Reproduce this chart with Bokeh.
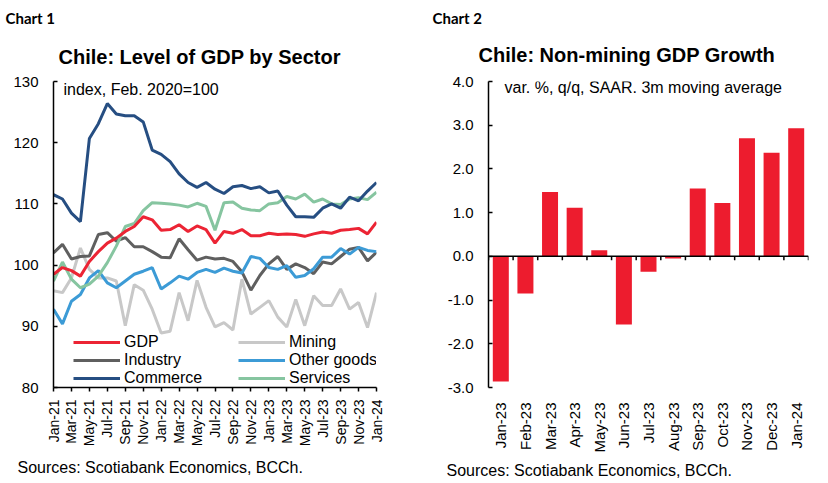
import math
from bokeh.plotting import figure
from bokeh.layouts import row
from bokeh.models import (Range1d, FixedTicker, Title, Legend, LegendItem, Label, Span,
                          NumeralTickFormatter)
from bokeh.embed import file_html
from bokeh.resources import INLINE

# ---------------- Chart 1 data ----------------
months = ["Jan-21", "Feb-21", "Mar-21", "Apr-21", "May-21", "Jun-21", "Jul-21", "Aug-21",
          "Sep-21", "Oct-21", "Nov-21", "Dec-21", "Jan-22", "Feb-22", "Mar-22", "Apr-22",
          "May-22", "Jun-22", "Jul-22", "Aug-22", "Sep-22", "Oct-22", "Nov-22", "Dec-22",
          "Jan-23", "Feb-23", "Mar-23", "Apr-23", "May-23", "Jun-23", "Jul-23", "Aug-23",
          "Sep-23", "Oct-23", "Nov-23", "Dec-23", "Jan-24"]
gdp = [98.5, 99.6, 99.1, 98.2, 100.6, 102.2, 103.6, 104.4, 105.5, 106.3, 107.9, 107.4,
       105.7, 105.8, 106.6, 105.5, 106.4, 105.8, 103.6, 105.5, 105.2, 105.8, 104.8, 104.8,
       105.2, 105.0, 105.1, 105.0, 104.7, 105.1, 105.4, 105.2, 105.7, 105.8, 106.0, 105.1, 107.0]
mining = [95.8, 95.5, 97.9, 102.8, 99.3, 97.9, 97.9, 97.4, 90.1, 96.8, 95.9, 92.8,
          88.9, 89.2, 95.5, 90.9, 97.5, 93.1, 89.9, 90.6, 89.4, 97.7, 92.0, 93.1,
          94.2, 91.5, 89.9, 94.4, 90.1, 95.0, 93.4, 93.4, 96.1, 92.8, 93.9, 89.8, 95.5]
industry = [102.0, 103.4, 101.0, 101.4, 101.5, 105.0, 105.3, 103.9, 104.5, 103.0, 103.0, 102.2,
            101.3, 101.2, 104.3, 102.5, 100.8, 101.3, 101.0, 101.1, 100.6, 98.9, 95.9, 98.3,
            100.2, 101.4, 99.3, 100.2, 99.6, 98.6, 100.5, 100.2, 101.4, 102.6, 102.9, 100.7, 102.1]
other_goods = [92.8, 90.4, 94.1, 95.2, 97.9, 99.1, 97.1, 96.3, 97.4, 98.5, 99.0, 99.6,
               96.1, 97.1, 98.2, 97.7, 98.8, 99.3, 98.8, 99.5, 99.0, 98.7, 101.4, 101.1,
               99.6, 99.3, 99.9, 98.0, 98.3, 99.4, 101.3, 101.3, 102.7, 101.8, 102.9, 102.4, 102.2]
commerce = [111.5, 110.8, 108.5, 107.1, 120.7, 123.1, 126.4, 124.7, 124.4, 124.4, 123.4, 118.8,
            118.1, 116.9, 114.9, 113.5, 112.7, 113.5, 112.4, 111.7, 112.8, 113.0, 112.5, 112.8,
            111.8, 112.1, 109.8, 107.9, 107.9, 107.8, 109.3, 110.0, 109.3, 111.1, 110.5, 112.1, 113.5]
services = [97.4, 100.5, 97.7, 96.3, 96.9, 98.2, 100.4, 103.1, 106.3, 106.8, 108.9, 110.2,
            110.1, 110.0, 109.8, 109.5, 110.1, 109.6, 105.7, 110.2, 110.3, 109.3, 109.0, 108.9,
            110.0, 110.2, 111.2, 110.8, 111.6, 110.3, 110.8, 110.0, 109.9, 110.8, 111.0, 110.7, 111.9]
y1_ticks = [80, 90, 100, 110, 120, 130]

# ---------------- Chart 2 data ----------------
bar_months = ["Jan-23", "Feb-23", "Mar-23", "Apr-23", "May-23", "Jun-23", "Jul-23",
              "Aug-23", "Sep-23", "Oct-23", "Nov-23", "Dec-23", "Jan-24"]
growth = [-2.86, -0.85, 1.47, 1.11, 0.14, -1.56, -0.35, -0.05, 1.55, 1.22, 2.70, 2.37, 2.93]
y2_ticks = [-3, -2, -1, 0, 1, 2, 3, 4]

FONT = "Liberation Sans"
TXT = "#000000"


def style_common(p):
    p.outline_line_color = None
    p.xgrid.visible = False
    p.ygrid.visible = False
    p.background_fill_color = "white"
    p.border_fill_color = "white"


def style_title(t, size, bold=True, font=FONT, align="left", offset=0, standoff=0):
    t.text_font = font
    t.text_font_size = size
    t.text_font_style = "bold" if bold else "normal"
    t.text_color = TXT
    t.align = align
    t.offset = offset
    t.standoff = standoff


# ================= Chart 1 =================
xs = list(range(len(months)))
p1 = figure(width=414, height=483, x_range=Range1d(0, len(months) - 1),
            y_range=Range1d(y1_ticks[0], y1_ticks[-1]),
            title="Chart 1",
            output_backend="svg", toolbar_location=None,
            min_border_left=53, min_border_right=38, min_border_top=81, min_border_bottom=93)
style_common(p1)
style_title(p1.title, "15px", font="Lato", align="left", offset=-48, standoff=8)
t1 = Title(text="Chile: Level of GDP by Sector")
style_title(t1, "20px", align="left", offset=5, standoff=27)
p1.add_layout(t1, "above")
s1 = Title(text="Sources: Scotiabank Economics, BCCh.")
style_title(s1, "16px", bold=False, align="left", offset=-36, standoff=15)
p1.add_layout(s1, "below")

ya = p1.yaxis[0]
ya.ticker = FixedTicker(ticks=y1_ticks)
ya.major_tick_in = 4
ya.major_tick_out = 0
ya.minor_tick_line_color = None
ya.axis_line_width = 1.5
ya.axis_line_color = "black"
ya.major_tick_line_width = 1.5
ya.major_label_text_font = FONT
ya.major_label_text_font_size = "15px"
ya.major_label_text_color = TXT
ya.major_label_standoff = 15

xa = p1.xaxis[0]
xa.ticker = FixedTicker(ticks=xs[::2])
xa.major_label_overrides = {i: months[i] for i in xs[::2]}
xa.major_label_orientation = math.pi / 2
xa.major_tick_in = 0
xa.major_tick_out = 4
xa.minor_tick_line_color = None
xa.axis_line_width = 1.5
xa.axis_line_color = "black"
xa.major_tick_line_width = 1.5
xa.major_label_text_font = FONT
xa.major_label_text_font_size = "14px"
xa.major_label_text_color = TXT
xa.major_label_standoff = 8

series = [
    ("GDP", gdp, "#EC2434"),
    ("Industry", industry, "#5F5F5F"),
    ("Commerce", commerce, "#264E82"),
    ("Mining", mining, "#C8C8C8"),
    ("Other goods", other_goods, "#3C9BD6"),
    ("Services", services, "#86C5A0"),
]
draw_order = ["Mining", "Industry", "Other goods", "Services", "Commerce", "GDP"]
renderers = {}
for name in draw_order:
    for n, vals, col in series:
        if n == name:
            renderers[n] = p1.line(xs, vals, line_color=col, line_width=3)


def make_legend(names, loc):
    return Legend(items=[LegendItem(label=n, renderers=[renderers[n]]) for n in names],
                  location=loc, orientation="vertical",
                  background_fill_alpha=0, border_line_color=None,
                  label_text_font=FONT, label_text_font_size="16px", label_text_color=TXT,
                  glyph_width=47, glyph_height=16, label_height=16, label_standoff=4,
                  spacing=0, padding=0, margin=0)


p1.add_layout(make_legend(["GDP", "Industry", "Commerce"], (20, 0)))
p1.add_layout(make_legend(["Mining", "Other goods", "Services"], (185, 0)))

p1.add_layout(Label(x=10, y=298, x_units="screen", y_units="screen",
                    text="index, Feb. 2020=100", text_font=FONT, text_font_size="16px",
                    text_color=TXT, text_baseline="alphabetic"))

# ================= Chart 2 =================
n_bars = len(bar_months)
centers = [i + 0.5 for i in range(n_bars)]
bounds = list(range(n_bars + 1))
p2 = figure(width=414, height=483, x_range=Range1d(0, n_bars),
            y_range=Range1d(y2_ticks[0], y2_ticks[-1]),
            title="Chart 2",
            output_backend="svg", toolbar_location=None,
            min_border_left=74, min_border_right=20, min_border_top=81, min_border_bottom=93)
style_common(p2)
style_title(p2.title, "15px", font="Lato", align="left", offset=-56, standoff=0)
t2 = Title(text="Chile: Non-mining GDP Growth")
style_title(t2, "20px", align="left", offset=-10, standoff=31)
p2.add_layout(t2, "above")
s2 = Title(text="Sources: Scotiabank Economics, BCCh.")
style_title(s2, "16px", bold=False, align="left", offset=-42, standoff=8)
p2.add_layout(s2, "below")

p2.vbar(x=centers, top=growth, bottom=0, width=0.65, fill_color="#ED1C2E", line_color=None)
p2.add_layout(Span(location=0, dimension="width", line_color="black", line_width=1.5))
p2.ray(x=bounds, y=[0] * len(bounds), length=4, length_units="screen",
       angle=-math.pi / 2, line_color="black", line_width=1.5)

ya2 = p2.yaxis[0]
ya2.ticker = FixedTicker(ticks=y2_ticks)
ya2.formatter = NumeralTickFormatter(format="0.0")
ya2.major_tick_in = 4
ya2.major_tick_out = 0
ya2.minor_tick_line_color = None
ya2.axis_line_width = 1.5
ya2.axis_line_color = "black"
ya2.major_tick_line_width = 1.5
ya2.major_label_text_font = FONT
ya2.major_label_text_font_size = "15px"
ya2.major_label_text_color = TXT
ya2.major_label_standoff = 15

xa2 = p2.xaxis[0]
xa2.ticker = FixedTicker(ticks=centers)
xa2.major_label_overrides = {c: m for c, m in zip(centers, bar_months)}
xa2.major_label_orientation = math.pi / 2
xa2.axis_line_color = None
xa2.major_tick_line_color = None
xa2.minor_tick_line_color = None
xa2.major_label_text_font = FONT
xa2.major_label_text_font_size = "15px"
xa2.major_label_text_color = TXT
xa2.major_label_standoff = 9

p2.add_layout(Label(x=16, y=300, x_units="screen", y_units="screen",
                    text="var. %, q/q, SAAR. 3m moving average", text_font=FONT,
                    text_font_size="16px", text_color=TXT, text_baseline="alphabetic"))

layout = row(p1, p2, spacing=0)
open("out.html", "w").write(file_html(layout, INLINE))
